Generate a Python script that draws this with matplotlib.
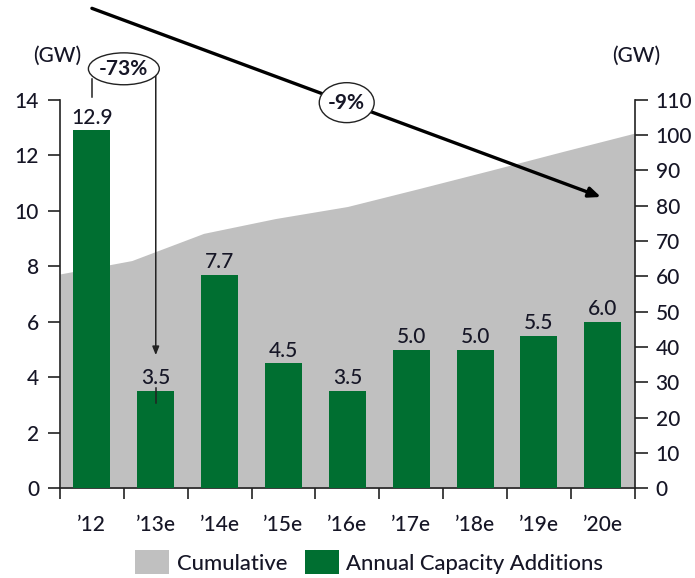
import matplotlib.pyplot as plt
from matplotlib.patches import Patch, Ellipse
import numpy as np

plt.rcParams['font.family'] = ['Lato', 'DejaVu Sans']
plt.rcParams['font.weight'] = 'medium'

years = ["’12", "’13e", "’14e", "’15e", "’16e", "’17e", "’18e", "’19e", "’20e"]
annual = [12.9, 3.5, 7.7, 4.5, 3.5, 5.0, 5.0, 5.5, 6.0]
cumulative = [60.7, 64.5, 72.2, 76.4, 79.8, 84.9, 90.1, 95.4, 100.6]

green = '#006F31'
grey = '#C0C0C0'
txt = '#161626'
fs = 15

fig = plt.figure(figsize=(6.95, 5.78), dpi=100)
ax = fig.add_axes([0.0863, 0.1552, 0.827, 0.672])
ax2 = ax.twinx()

x = np.arange(len(years))

# cumulative area on the secondary axis, stretched edge to edge
xa = np.linspace(-0.5, len(years) - 0.5, len(cumulative))
ax2.fill_between(xa, cumulative, 0, color=grey, lw=0)
ax2.set_ylim(0, 110)
ax2.set_yticks(range(0, 111, 10))

ax.bar(x, annual, width=0.58, color=green, zorder=3)
for xi, v in zip(x, annual):
    ax.text(xi, v + 0.1, f'{v:.1f}', ha='center', va='bottom',
            fontsize=fs, color=txt, zorder=4)

ax.set_zorder(ax2.get_zorder() + 1)
ax.patch.set_visible(False)

ax.set_xlim(-0.5, len(years) - 0.5)
ax.set_ylim(0, 14)
ax.set_yticks(range(0, 15, 2))

# tick marks between categories, labels at category centres
ax.set_xticks(np.arange(-0.5, len(years), 1))
ax.set_xticklabels([])
ax.set_xticks(x, minor=True)
ax.set_xticklabels(years, minor=True)
ax.tick_params(axis='x', which='major', direction='out', length=8, width=1.2, color='#222')
ax.tick_params(axis='x', which='minor', length=0, pad=19, labelsize=fs, labelcolor=txt)
ax.tick_params(axis='y', direction='out', length=9, width=1.2, color='#222',
               pad=6, labelsize=fs, labelcolor=txt)
ax2.tick_params(axis='y', direction='out', length=9, width=1.2, color='#222',
                pad=6, labelsize=fs, labelcolor=txt)

for a in (ax, ax2):
    a.spines['top'].set_visible(False)
    for s in a.spines.values():
        s.set_linewidth(1.2)
        s.set_color('#222')
ax.spines['right'].set_visible(False)
ax2.spines['left'].set_visible(False)
ax2.spines['bottom'].set_visible(False)

fig.text(0.083, 0.903, '(GW)', ha='center', va='center', fontsize=fs, color=txt)
fig.text(0.915, 0.903, '(GW)', ha='center', va='center', fontsize=fs, color=txt)

# overall trend arrow with -9% badge
ax.annotate('', xy=(7.97, 10.5), xytext=(0.0, 17.3), annotation_clip=False,
            arrowprops=dict(arrowstyle='-|>,head_length=0.7,head_width=0.3',
                            lw=2.4, color='black', shrinkA=0, shrinkB=0), zorder=5)
ax.add_patch(Ellipse((3.99, 13.9), 0.86, 1.44, facecolor='white', edgecolor='#222',
                     lw=1.0, clip_on=False, zorder=6))
ax.text(3.99, 13.9, '-9%', ha='center', va='center', fontsize=fs,
        fontweight='bold', color=txt, zorder=7)

# '12 -> '13e drop bracket with -73% badge
ax.plot([0, 0], [14.1, 14.75], color='#222', lw=1.1, clip_on=False, zorder=5)
ax.annotate('', xy=(1.0, 4.8), xytext=(1.0, 14.9), annotation_clip=False,
            arrowprops=dict(arrowstyle='-|>,head_length=0.5,head_width=0.2',
                            lw=1.1, color='#222', shrinkA=0, shrinkB=0), zorder=5)
ax.plot([1.0, 1.0], [3.07, 3.62], color='#222', lw=1.1, zorder=5)
ax.add_patch(Ellipse((0.5, 15.12), 1.11, 1.15, facecolor='white', edgecolor='#222',
                     lw=1.0, clip_on=False, zorder=6))
ax.text(0.5, 15.12, '-73%', ha='center', va='center', fontsize=fs,
        fontweight='bold', color=txt, zorder=7)

handles = [Patch(facecolor=grey, edgecolor='none', label='Cumulative'),
           Patch(facecolor=green, edgecolor='none', label='Annual Capacity Additions')]
fig.legend(handles=handles, loc='center', bbox_to_anchor=(0.531, 0.027), ncol=2,
           frameon=False, fontsize=15.8, handlelength=1.55, handleheight=1.3,
           handletextpad=0.35, columnspacing=0.8, labelcolor=txt)

fig.savefig('out.png', dpi=100)
